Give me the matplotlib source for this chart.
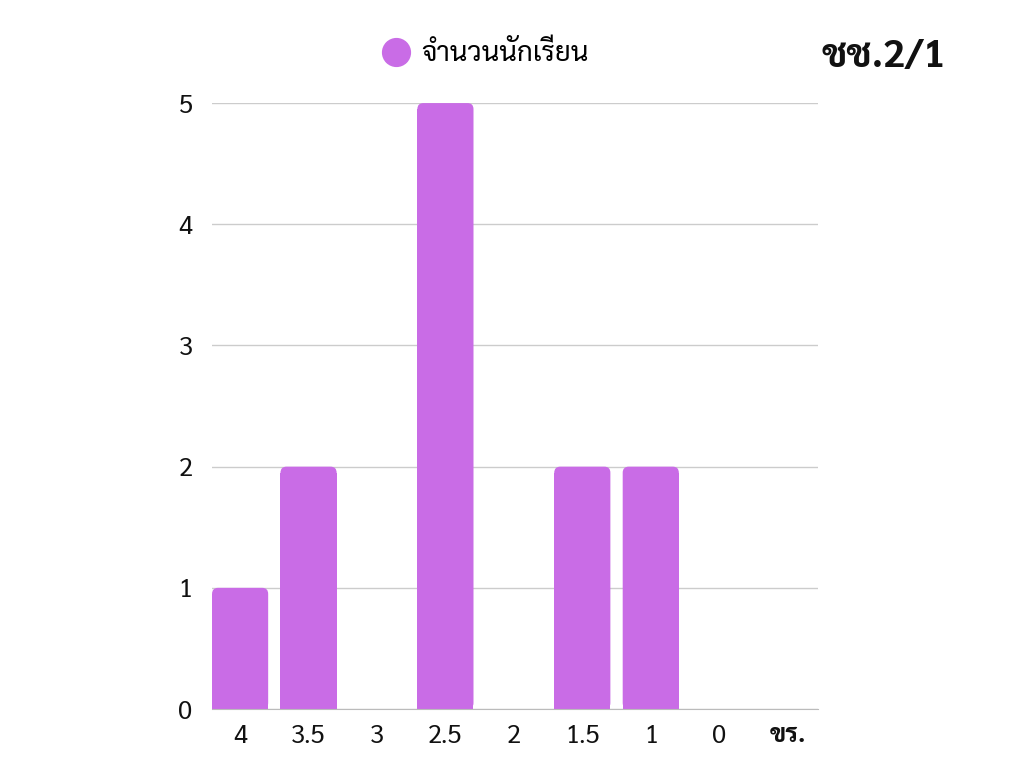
import matplotlib
matplotlib.use("Agg")
import matplotlib.pyplot as plt
from matplotlib.lines import Line2D
from matplotlib.patches import FancyBboxPatch

# data
categories = ["4", "3.5", "3", "2.5", "2", "1.5", "1", "0", "ขร."]
students = [1, 2, 0, 5, 0, 2, 2, 0, 0]
series_name = "จำนวนนักเรียน"
title = "ชช.2/1"

plt.rcParams['font.family'] = ['Sarabun', 'Noto Sans Thai', 'DejaVu Sans']
bar_color = "#c96ce6"

fig = plt.figure(figsize=(10.18, 7.67), dpi=100)
ax = fig.add_axes([0.2083, 0.0756, 0.595, 0.79])

x = list(range(len(categories)))
width = 0.82
ry = 0.05
rx = 0.088
# square lower part of each bar
ax.bar(x, [max(v - ry, 0) if v > 0 else 0 for v in students], width=width,
       color=bar_color, zorder=2, linewidth=0)
# rounded top
for xi, v in zip(x, students):
    if v <= 0:
        continue
    p = FancyBboxPatch((xi - width / 2, 0), width, v,
                       boxstyle="round,pad=0,rounding_size=%f" % rx,
                       mutation_aspect=ry / rx,
                       facecolor=bar_color, edgecolor="none", zorder=2)
    ax.add_patch(p)

ax.set_xlim(-0.41, 8.44)
ax.set_ylim(0, 5)
ax.set_yticks([0, 1, 2, 3, 4, 5])
ax.set_xticks(x)
ax.set_xticklabels(categories)
ax.xaxis.get_ticklabels()[-1].set_fontweight("bold")
ax.grid(axis="y", color="#cccccc", linewidth=1, zorder=0)
ax.tick_params(axis="both", length=0, labelsize=18.5, colors="#111111")
ax.tick_params(axis="y", pad=14)
ax.tick_params(axis="x", pad=11)
for s in ["left", "right", "top"]:
    ax.spines[s].set_visible(False)
ax.spines["bottom"].set_color("#bbbbbb")
ax.spines["bottom"].set_zorder(3)

handle = Line2D([], [], marker="o", linestyle="", color=bar_color, markersize=20)
fig.legend(handles=[handle], labels=[series_name], loc="center",
           bbox_to_anchor=(0.476, 0.929), frameon=False, fontsize=20,
           handletextpad=0.35, handlelength=1.1)

fig.text(0.868, 0.926, title, ha="center", va="center", fontsize=28,
         fontweight="bold", color="#111111")

fig.savefig("out.png", dpi=100)
